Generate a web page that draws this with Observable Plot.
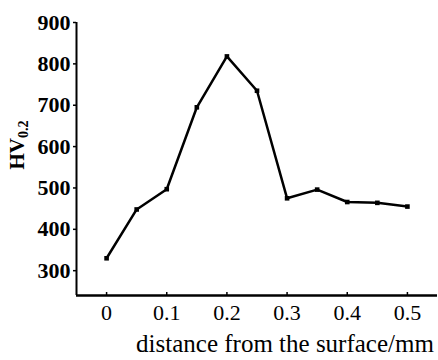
<!DOCTYPE html>
<html>
<head>
<meta charset="utf-8">
<script src="https://cdn.jsdelivr.net/npm/d3@7"></script>
<script src="https://cdn.jsdelivr.net/npm/@observablehq/plot@0.6"></script>
<style>
  html, body { margin: 0; padding: 0; background: #fff; }
  #chart { width: 438px; height: 360px; }
  #chart svg text { font-family: 'Liberation Serif', 'Times New Roman', serif !important; }
</style>
</head>
<body>
<div id="chart"></div>
<script>
const distance = [0, 0.05, 0.1, 0.15, 0.2, 0.25, 0.3, 0.35, 0.4, 0.45, 0.5];
const hardness = [330, 448, 497, 695, 818, 735, 475, 496, 466, 464, 455];
const xTicks = [0, 0.1, 0.2, 0.3, 0.4, 0.5];
const xTickLabels = ["0", "0.1", "0.2", "0.3", "0.4", "0.5"];
const yTicks = [300, 400, 500, 600, 700, 800, 900];
const xTitle = "distance from the surface/mm";

const data = distance.map((d, i) => ({x: d, y: hardness[i]}));
const serif = "'Liberation Serif', 'Times New Roman', serif";

const plot = Plot.plot({
  width: 438,
  height: 360,
  marginLeft: 76,
  marginRight: 1,
  marginTop: 22,
  marginBottom: 65,
  style: {fontFamily: serif, fontSize: "22px", color: "#000", background: "#fff"},
  x: {domain: [-0.05, 0.55]},
  y: {domain: [240, 900]},
  marks: [
    Plot.ruleX([-0.05], {stroke: "#000", strokeWidth: 2}),
    Plot.ruleY([240], {stroke: "#000", strokeWidth: 2.5}),
    Plot.axisX({ticks: xTicks, tickFormat: (d, i) => xTickLabels[i], tickSize: -3, tickPadding: 12, label: null, fontSize: 22, fontFamily: serif, stroke: "#000", strokeWidth: 1.5}),
    Plot.axisY({ticks: yTicks, tickSize: 3, tickPadding: 3, label: null, fontSize: 22, fontWeight: "bold", fontFamily: serif, stroke: "#000", strokeWidth: 1.5}),
    Plot.line(data, {x: "x", y: "y", stroke: "#000", strokeWidth: 2.5}),
    Plot.dot(data, {x: "x", y: "y", symbol: "square", r: 2.6, fill: "#000"}),
    Plot.text([xTitle], {frameAnchor: "bottom", dy: 56, dx: 28, fontSize: 25, fontFamily: serif, fill: "#000"})
  ]
});

// y-axis label with subscript
const svg = d3.select(plot);
const t = svg.append("text")
  .attr("transform", "translate(24,145) rotate(-90)")
  .attr("text-anchor", "middle")
  .attr("font-family", serif)
  .attr("font-weight", "bold")
  .attr("font-size", 21)
  .attr("fill", "#000");
t.append("tspan").text("HV");
t.append("tspan").attr("font-size", 14).attr("dy", 4).text("0.2");

document.getElementById("chart").appendChild(plot);
</script>
</body>
</html>
